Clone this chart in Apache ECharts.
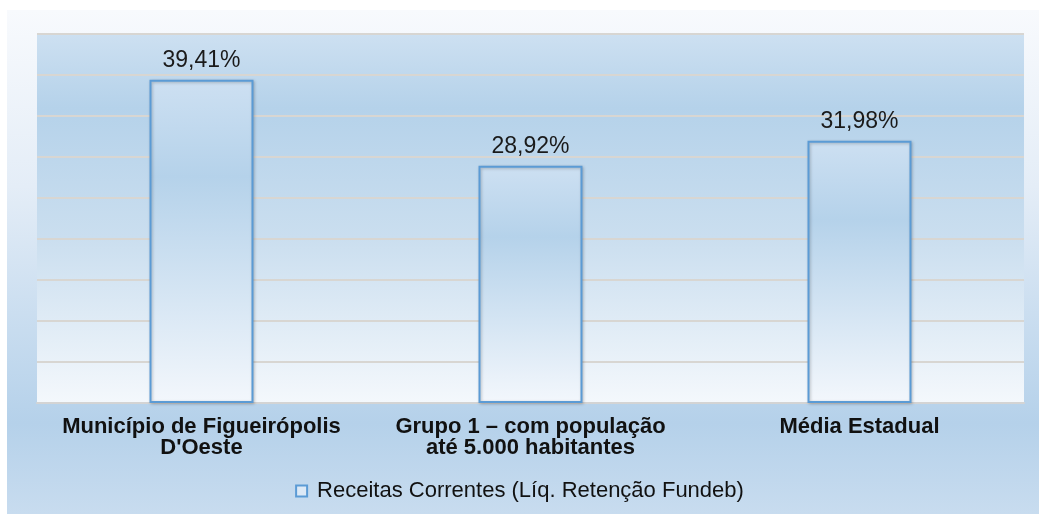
<!DOCTYPE HTML>
<html>
<head>
<meta charset="utf-8">
<title>Receitas Correntes</title>
<script src="https://cdn.jsdelivr.net/npm/echarts@6/dist/echarts.min.js"></script>
<style>
    body, div { margin: 0; padding: 0; border: 0; }
    #graphic { width: 1039px; height: 514px; background: #fff; }
</style>
</head>
<body>
<div id="graphic"></div>
<script type="text/javascript">
var categories = ['Município de Figueirópolis\nD\'Oeste', 'Grupo 1 – com população\naté 5.000 habitantes', 'Média Estadual'];
var values = [39.41, 28.92, 31.98];
var seriesName = 'Receitas Correntes (Líq. Retenção Fundeb)';

function grad(stops) {
    return new echarts.graphic.LinearGradient(0, 0, 0, 1, stops);
}

var option = {
    animation: false,
    textStyle: { fontFamily: 'Liberation Sans, Arial, sans-serif' },
    graphic: [{
        type: 'rect',
        z: -10,
        shape: { x: 7, y: 10, width: 1032, height: 504 },
        style: {
            fill: grad([
                { offset: 0, color: '#f8fafd' },
                { offset: 0.35, color: '#e4edf7' },
                { offset: 0.82, color: '#b5d1ea' },
                { offset: 1, color: '#c8dcef' }
            ])
        }
    }],
    grid: {
        left: 37, right: 15, top: 34, bottom: 111,
        show: true,
        borderWidth: 0,
        backgroundColor: grad([
            { offset: 0, color: '#cde0f1' },
            { offset: 0.2, color: '#b5d2ea' },
            { offset: 0.55, color: '#cadeef' },
            { offset: 1, color: '#f4f8fc' }
        ])
    },
    legend: {
        bottom: 7,
        left: 'center',
        icon: 'rect',
        itemWidth: 11,
        itemHeight: 11,
        itemGap: 4,
        itemStyle: { color: '#dce9f6', borderColor: '#5b9bd5', borderWidth: 2 },
        textStyle: { fontSize: 22, color: '#111', padding: [0, 0, 0, 5] },
        data: [seriesName]
    },
    xAxis: {
        type: 'category',
        data: categories,
        axisTick: { show: false },
        axisLine: { lineStyle: { color: '#d4d4d4', width: 2 } },
        axisLabel: {
            margin: 13,
            fontSize: 22,
            fontWeight: 'bold',
            color: '#111',
            lineHeight: 21,
            interval: 0
        }
    },
    yAxis: {
        type: 'value',
        min: 0,
        max: 45,
        interval: 5,
        axisLabel: { show: false },
        axisLine: { show: false },
        axisTick: { show: false },
        splitLine: { lineStyle: { color: '#d8d6d2', width: 2 } }
    },
    series: [{
        name: seriesName,
        type: 'bar',
        data: values,
        barWidth: '31.6%',
        itemStyle: {
            color: grad([
                { offset: 0, color: '#cde0f2' },
                { offset: 0.3, color: '#b5d2ea' },
                { offset: 1, color: '#f3f7fc' }
            ]),
            borderColor: '#5b9bd5',
            borderWidth: 2,
            shadowBlur: 3,
            shadowOffsetX: 1,
            shadowOffsetY: 1,
            shadowColor: 'rgba(0,0,0,0.25)'
        },
        label: {
            show: true,
            position: 'top',
            distance: 8,
            fontSize: 23,
            color: '#1a1a1a',
            formatter: function (p) {
                return p.value.toFixed(2).replace('.', ',') + '%';
            }
        }
    }]
};

var myChart = echarts.init(document.getElementById('graphic'));
myChart.setOption(option);
</script>
</body>
</html>
